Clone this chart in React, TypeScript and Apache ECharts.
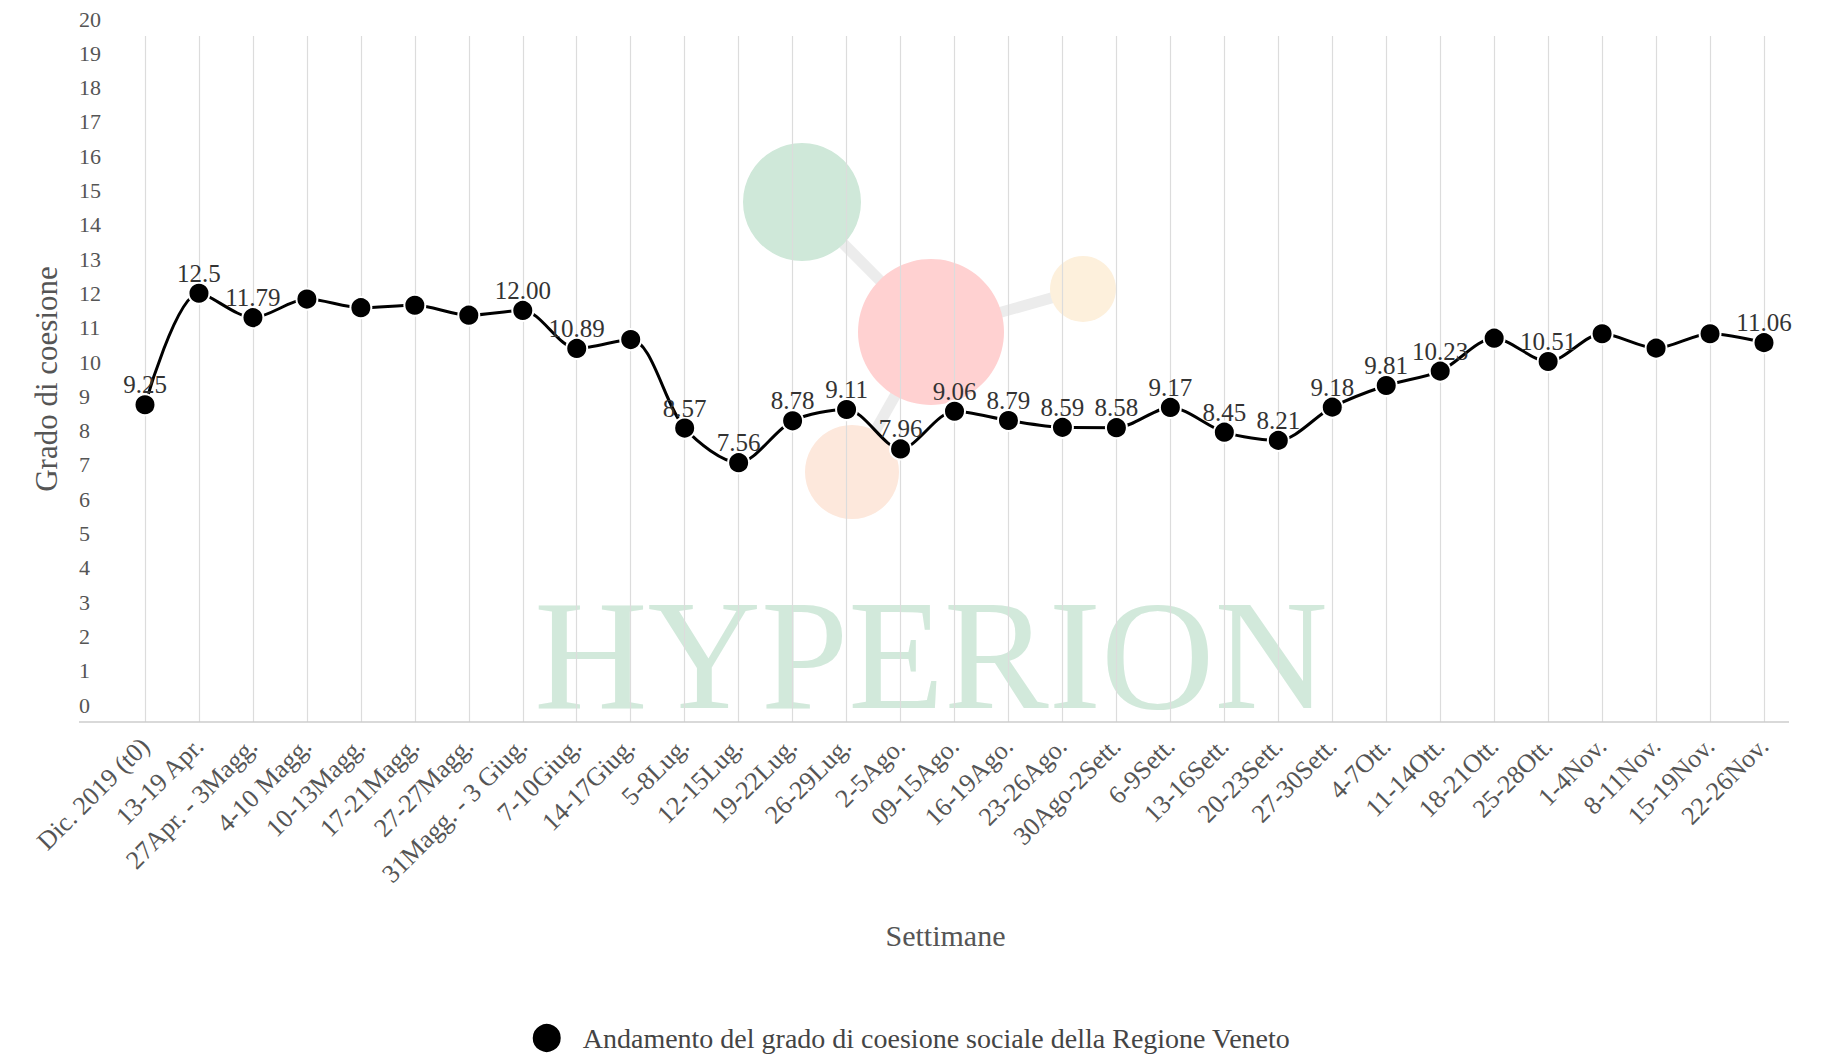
import React, { useEffect, useRef } from "react";
import * as echarts from "echarts";

const categories: string[] = [
  "Dic. 2019 (t0)", "13-19 Apr.", "27Apr. - 3Magg.", "4-10 Magg.", "10-13Magg.",
  "17-21Magg.", "27-27Magg.", "31Magg. - 3 Giug.", "7-10Giug.", "14-17Giug.",
  "5-8Lug.", "12-15Lug.", "19-22Lug.", "26-29Lug.", "2-5Ago.",
  "09-15Ago.", "16-19Ago.", "23-26Ago.", "30Ago-2Sett.", "6-9Sett.",
  "13-16Sett.", "20-23Sett.", "27-30Sett.", "4-7Ott.", "11-14Ott.",
  "18-21Ott.", "25-28Ott.", "1-4Nov.", "8-11Nov.", "15-19Nov.", "22-26Nov.",
];

const values: number[] = [
  9.25, 12.5, 11.79, 12.33, 12.08, 12.15, 11.86, 12.0, 10.89, 11.15,
  8.57, 7.56, 8.78, 9.11, 7.96, 9.06, 8.79, 8.59, 8.58, 9.17,
  8.45, 8.21, 9.18, 9.81, 10.23, 11.19, 10.51, 11.32, 10.9, 11.32, 11.06,
];

const valueLabels: string[] = [
  "9.25", "12.5", "11.79", "", "", "", "", "12.00", "10.89", "",
  "8.57", "7.56", "8.78", "9.11", "7.96", "9.06", "8.79", "8.59", "8.58", "9.17",
  "8.45", "8.21", "9.18", "9.81", "10.23", "", "10.51", "", "", "", "11.06",
];

const seriesName = "Andamento del grado di coesione sociale della Regione Veneto";
const yAxisName = "Grado di coesione";
const xAxisName = "Settimane";
const watermark = "HYPERION";

const FONT = "'Liberation Serif', 'DejaVu Serif', serif";

export default function App() {
  const ref = useRef<HTMLDivElement>(null);

  useEffect(() => {
    if (!ref.current) return;
    const chart = echarts.init(ref.current, undefined, { renderer: "svg" });
    const gridTop = 36;
    const axisY = 722;
    chart.setOption({
      animation: false,
      backgroundColor: "#ffffff",
      textStyle: { fontFamily: FONT },
      grid: { left: 145, right: 57, top: gridTop, bottom: 1055 - axisY },
      graphic: [
        {
          type: "text",
          z: -10,
          x: 931,
          y: 655,
          style: {
            text: watermark,
            fill: "#d2e9db",
            font: "157px 'Liberation Serif', serif",
            textAlign: "center",
            textVerticalAlign: "middle",
          },
        },
        { type: "line", z: -11, shape: { x1: 802, y1: 202, x2: 931, y2: 332 }, style: { stroke: "#ececec", lineWidth: 11 } },
        { type: "line", z: -11, shape: { x1: 931, y1: 332, x2: 1083, y2: 289 }, style: { stroke: "#ececec", lineWidth: 11 } },
        { type: "line", z: -11, shape: { x1: 931, y1: 332, x2: 852, y2: 472 }, style: { stroke: "#ececec", lineWidth: 11 } },
        { type: "circle", z: -10, shape: { cx: 802, cy: 202, r: 59 }, style: { fill: "#cfe8d9" } },
        { type: "circle", z: -10, shape: { cx: 931, cy: 332, r: 73 }, style: { fill: "#ffd1d1" } },
        { type: "circle", z: -10, shape: { cx: 1083, cy: 289, r: 33 }, style: { fill: "#fdf0dc" } },
        { type: "circle", z: -10, shape: { cx: 852, cy: 472, r: 47 }, style: { fill: "#fde8dc" } },
        { type: "line", z: 1, shape: { x1: 79, y1: axisY, x2: 1789, y2: axisY }, style: { stroke: "#cccccc", lineWidth: 1.5 } },
      ],
      legend: {
        data: [seriesName],
        left: "center",
        top: 1017,
        icon: "circle",
        itemWidth: 30,
        itemHeight: 30,
        itemGap: 10,
        textStyle: { fontFamily: FONT, fontSize: 28, color: "#444", padding: [0, 0, 0, 16] },
      },
      xAxis: {
        type: "category",
        data: categories,
        boundaryGap: false,
        name: xAxisName,
        nameLocation: "middle",
        nameGap: 198,
        nameTextStyle: { fontFamily: FONT, fontSize: 30, color: "#555", padding: [0, 18, 0, 0] },
        axisLine: { show: false },
        axisTick: { show: false },
        axisLabel: {
          interval: 0,
          rotate: 45,
          margin: 20,
          fontFamily: FONT,
          fontSize: 26,
          color: "#555",
        },
        splitLine: { show: true, lineStyle: { color: "#dcdcdc", width: 1.2 } },
      },
      yAxis: {
        type: "value",
        min: 0,
        max: 20,
        interval: 1,
        name: yAxisName,
        nameLocation: "middle",
        nameRotate: 90,
        nameGap: 83,
        nameTextStyle: { fontFamily: FONT, fontSize: 31, color: "#555" },
        axisLine: { show: false },
        axisTick: { show: false },
        splitLine: { show: false },
        axisLabel: {
          align: "left",
          margin: 66,
          verticalAlign: "bottom",
          padding: [0, 0, 6, 0],
          fontFamily: FONT,
          fontSize: 22,
          color: "#555",
        },
      },
      series: [
        {
          name: seriesName,
          type: "line",
          data: values,
          smooth: 0.3,
          symbol: "circle",
          symbolSize: 21,
          z: 5,
          itemStyle: { color: "#000000", borderColor: "#ffffff", borderWidth: 2 },
          lineStyle: { color: "#000000", width: 3 },
          label: {
            show: true,
            position: "top",
            distance: -4,
            fontFamily: FONT,
            fontSize: 25,
            color: "#333",
            formatter: (p: any) => valueLabels[p.dataIndex] || "",
          },
        },
      ],
    });
    return () => chart.dispose();
  }, []);

  return (
    <div
      ref={ref}
      style={{ position: "fixed", left: 0, top: 0, width: 1821, height: 1055 }}
    />
  );
}
